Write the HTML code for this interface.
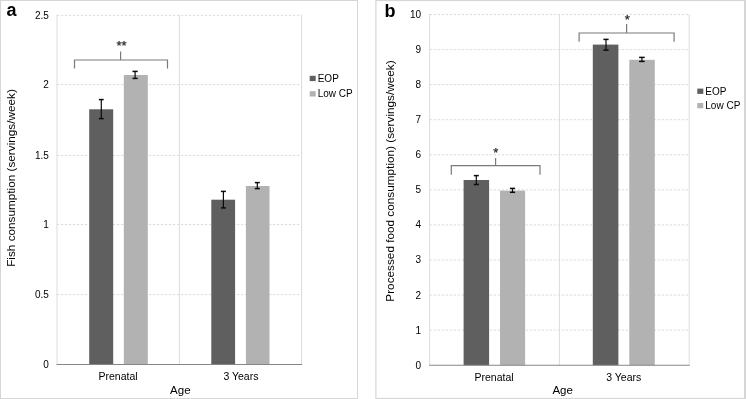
<!DOCTYPE html>
<html><head><meta charset="utf-8"><style>
html,body{margin:0;padding:0;background:#fff;}
body{width:746px;height:399px;overflow:hidden;}
svg{display:block;will-change:transform;font-family:"Liberation Sans",sans-serif;}
</style></head><body>
<svg width="746" height="399" viewBox="0 0 746 399">
<rect width="746" height="399" fill="#fff"/>
<rect x="0.5" y="0.5" width="357" height="398" fill="none" stroke="#d6d6d6" stroke-width="1"/>
<rect x="375.9" y="0.5" width="369.1" height="398" fill="none" stroke="#d6d6d6" stroke-width="1.2"/>
<rect x="744" y="0" width="2" height="399" fill="#d6d6d6"/>
<text x="6.6" y="16.2" font-size="18" font-weight="bold" fill="#000">a</text>
<text x="48.8" y="368" font-size="10" text-anchor="end" fill="#000">0</text>
<line x1="57" y1="294.6" x2="301.6" y2="294.6" stroke="#dcdcdc" stroke-width="1" stroke-dasharray="2.4,1.6"/>
<text x="48.8" y="298.1" font-size="10" text-anchor="end" fill="#000">0.5</text>
<line x1="57" y1="224.6" x2="301.6" y2="224.6" stroke="#dcdcdc" stroke-width="1" stroke-dasharray="2.4,1.6"/>
<text x="48.8" y="228.1" font-size="10" text-anchor="end" fill="#000">1</text>
<line x1="57" y1="155.4" x2="301.6" y2="155.4" stroke="#dcdcdc" stroke-width="1" stroke-dasharray="2.4,1.6"/>
<text x="48.8" y="158.9" font-size="10" text-anchor="end" fill="#000">1.5</text>
<line x1="57" y1="84.6" x2="301.6" y2="84.6" stroke="#dcdcdc" stroke-width="1" stroke-dasharray="2.4,1.6"/>
<text x="48.8" y="88.1" font-size="10" text-anchor="end" fill="#000">2</text>
<line x1="57" y1="15.3" x2="301.6" y2="15.3" stroke="#dcdcdc" stroke-width="1" stroke-dasharray="2.4,1.6"/>
<text x="48.8" y="18.8" font-size="10" text-anchor="end" fill="#000">2.5</text>
<line x1="57" y1="14.8" x2="57" y2="364.5" stroke="#dcdcdc" stroke-width="1"/>
<line x1="179.4" y1="14.8" x2="179.4" y2="364.5" stroke="#dcdcdc" stroke-width="1"/>
<line x1="301.6" y1="14.8" x2="301.6" y2="364.5" stroke="#dcdcdc" stroke-width="1"/>
<rect x="89.2" y="109.3" width="24" height="255.2" fill="#5f5f5f"/>
<line x1="101.3" y1="99.6" x2="101.3" y2="118.6" stroke="#0a0a0a" stroke-width="1.2"/>
<line x1="98.9" y1="99.6" x2="103.7" y2="99.6" stroke="#0a0a0a" stroke-width="1.5"/>
<line x1="98.9" y1="118.6" x2="103.7" y2="118.6" stroke="#0a0a0a" stroke-width="1.5"/>
<rect x="123.8" y="75" width="24" height="289.5" fill="#b2b2b2"/>
<line x1="135.1" y1="71.4" x2="135.1" y2="78.4" stroke="#0a0a0a" stroke-width="1.2"/>
<line x1="132.5" y1="71.4" x2="137.7" y2="71.4" stroke="#0a0a0a" stroke-width="1.5"/>
<line x1="132.5" y1="78.4" x2="137.7" y2="78.4" stroke="#0a0a0a" stroke-width="1.5"/>
<rect x="211.3" y="199.7" width="23.8" height="164.8" fill="#5f5f5f"/>
<line x1="223.4" y1="191.4" x2="223.4" y2="207.9" stroke="#0a0a0a" stroke-width="1.2"/>
<line x1="220.9" y1="191.4" x2="225.9" y2="191.4" stroke="#0a0a0a" stroke-width="1.5"/>
<line x1="220.9" y1="207.9" x2="225.9" y2="207.9" stroke="#0a0a0a" stroke-width="1.5"/>
<rect x="245.9" y="186" width="23.6" height="178.5" fill="#b2b2b2"/>
<line x1="257.3" y1="182.6" x2="257.3" y2="188.6" stroke="#0a0a0a" stroke-width="1.2"/>
<line x1="254.8" y1="182.6" x2="259.8" y2="182.6" stroke="#0a0a0a" stroke-width="1.5"/>
<line x1="254.8" y1="188.6" x2="259.8" y2="188.6" stroke="#0a0a0a" stroke-width="1.5"/>
<line x1="56.5" y1="364.5" x2="302.1" y2="364.5" stroke="#868686" stroke-width="1.1"/>
<path d="M74.5 68.5 V60 H167.5 V68.5 M120.6 60 V51.5" fill="none" stroke="#7a7a7a" stroke-width="1.2"/>
<text x="121.5" y="49.8" font-size="13" text-anchor="middle" fill="#2a2a2a" stroke="#2a2a2a" stroke-width="0.25">**</text>
<text x="118.1" y="379.6" font-size="10.5" text-anchor="middle" fill="#000">Prenatal</text>
<text x="240.9" y="379.6" font-size="10.5" text-anchor="middle" fill="#000">3 Years</text>
<text x="180.3" y="394.2" font-size="11.5" text-anchor="middle" fill="#000">Age</text>
<text transform="translate(14.7,178) rotate(-90)" font-size="11.75" text-anchor="middle" fill="#000">Fish consumption (servings/week)</text>
<rect x="309.7" y="75.8" width="6" height="5.3" fill="#5f5f5f"/>
<text x="317.7" y="81.5" font-size="10" fill="#000">EOP</text>
<rect x="309.7" y="91.2" width="6" height="5.3" fill="#b2b2b2"/>
<text x="317.7" y="96.6" font-size="10" fill="#000">Low CP</text>
<text x="384.6" y="17" font-size="18" font-weight="bold" fill="#000">b</text>
<text x="421.1" y="368.7" font-size="10" text-anchor="end" fill="#000">0</text>
<line x1="429.6" y1="330.13" x2="689.2" y2="330.13" stroke="#dcdcdc" stroke-width="1" stroke-dasharray="2.4,1.6"/>
<text x="421.1" y="333.63" font-size="10" text-anchor="end" fill="#000">1</text>
<line x1="429.6" y1="295.06" x2="689.2" y2="295.06" stroke="#dcdcdc" stroke-width="1" stroke-dasharray="2.4,1.6"/>
<text x="421.1" y="298.56" font-size="10" text-anchor="end" fill="#000">2</text>
<line x1="429.6" y1="259.99" x2="689.2" y2="259.99" stroke="#dcdcdc" stroke-width="1" stroke-dasharray="2.4,1.6"/>
<text x="421.1" y="263.49" font-size="10" text-anchor="end" fill="#000">3</text>
<line x1="429.6" y1="224.92" x2="689.2" y2="224.92" stroke="#dcdcdc" stroke-width="1" stroke-dasharray="2.4,1.6"/>
<text x="421.1" y="228.42" font-size="10" text-anchor="end" fill="#000">4</text>
<line x1="429.6" y1="189.85" x2="689.2" y2="189.85" stroke="#dcdcdc" stroke-width="1" stroke-dasharray="2.4,1.6"/>
<text x="421.1" y="193.35" font-size="10" text-anchor="end" fill="#000">5</text>
<line x1="429.6" y1="154.78" x2="689.2" y2="154.78" stroke="#dcdcdc" stroke-width="1" stroke-dasharray="2.4,1.6"/>
<text x="421.1" y="158.28" font-size="10" text-anchor="end" fill="#000">6</text>
<line x1="429.6" y1="119.71" x2="689.2" y2="119.71" stroke="#dcdcdc" stroke-width="1" stroke-dasharray="2.4,1.6"/>
<text x="421.1" y="123.21" font-size="10" text-anchor="end" fill="#000">7</text>
<line x1="429.6" y1="84.64" x2="689.2" y2="84.64" stroke="#dcdcdc" stroke-width="1" stroke-dasharray="2.4,1.6"/>
<text x="421.1" y="88.14" font-size="10" text-anchor="end" fill="#000">8</text>
<line x1="429.6" y1="49.57" x2="689.2" y2="49.57" stroke="#dcdcdc" stroke-width="1" stroke-dasharray="2.4,1.6"/>
<text x="421.1" y="53.07" font-size="10" text-anchor="end" fill="#000">9</text>
<line x1="429.6" y1="14.5" x2="689.2" y2="14.5" stroke="#dcdcdc" stroke-width="1" stroke-dasharray="2.4,1.6"/>
<text x="421.1" y="18" font-size="10" text-anchor="end" fill="#000">10</text>
<line x1="429.6" y1="14" x2="429.6" y2="365.3" stroke="#dcdcdc" stroke-width="1"/>
<line x1="559.4" y1="14" x2="559.4" y2="365.3" stroke="#dcdcdc" stroke-width="1"/>
<line x1="689.2" y1="14" x2="689.2" y2="365.3" stroke="#dcdcdc" stroke-width="1"/>
<rect x="463.6" y="180" width="25.5" height="185.3" fill="#5f5f5f"/>
<line x1="476.3" y1="175.6" x2="476.3" y2="184.5" stroke="#0a0a0a" stroke-width="1.2"/>
<line x1="473.8" y1="175.6" x2="478.8" y2="175.6" stroke="#0a0a0a" stroke-width="1.5"/>
<line x1="473.8" y1="184.5" x2="478.8" y2="184.5" stroke="#0a0a0a" stroke-width="1.5"/>
<rect x="500" y="190.6" width="25.1" height="174.7" fill="#b2b2b2"/>
<line x1="512.5" y1="188.4" x2="512.5" y2="192.3" stroke="#0a0a0a" stroke-width="1.2"/>
<line x1="509.9" y1="188.4" x2="515.1" y2="188.4" stroke="#0a0a0a" stroke-width="1.5"/>
<line x1="509.9" y1="192.3" x2="515.1" y2="192.3" stroke="#0a0a0a" stroke-width="1.5"/>
<rect x="592.8" y="44.6" width="25.6" height="320.7" fill="#5f5f5f"/>
<line x1="606" y1="39.4" x2="606" y2="50.1" stroke="#0a0a0a" stroke-width="1.2"/>
<line x1="603.4" y1="39.4" x2="608.6" y2="39.4" stroke="#0a0a0a" stroke-width="1.5"/>
<line x1="603.4" y1="50.1" x2="608.6" y2="50.1" stroke="#0a0a0a" stroke-width="1.5"/>
<rect x="629.3" y="59.8" width="25.5" height="305.5" fill="#b2b2b2"/>
<line x1="641.9" y1="57.4" x2="641.9" y2="61.4" stroke="#0a0a0a" stroke-width="1.2"/>
<line x1="639.1" y1="57.4" x2="644.7" y2="57.4" stroke="#0a0a0a" stroke-width="1.5"/>
<line x1="639.1" y1="61.4" x2="644.7" y2="61.4" stroke="#0a0a0a" stroke-width="1.5"/>
<line x1="429.1" y1="365.3" x2="689.7" y2="365.3" stroke="#868686" stroke-width="1.1"/>
<path d="M451.3 174.8 V165.7 H540 V174.8 M495.6 165.7 V158" fill="none" stroke="#7a7a7a" stroke-width="1.2"/>
<text x="495.7" y="157.2" font-size="13" text-anchor="middle" fill="#2a2a2a" stroke="#2a2a2a" stroke-width="0.25">*</text>
<path d="M579.1 41.8 V33 H674.1 V41.8 M626.6 33 V24" fill="none" stroke="#7a7a7a" stroke-width="1.2"/>
<text x="627.4" y="24.3" font-size="13" text-anchor="middle" fill="#2a2a2a" stroke="#2a2a2a" stroke-width="0.25">*</text>
<text x="494.1" y="380.8" font-size="10.5" text-anchor="middle" fill="#000">Prenatal</text>
<text x="623.8" y="380.8" font-size="10.5" text-anchor="middle" fill="#000">3 Years</text>
<text x="562.7" y="394.2" font-size="11.5" text-anchor="middle" fill="#000">Age</text>
<text transform="translate(394,181) rotate(-90)" font-size="11.78" text-anchor="middle" fill="#000">Processed food consumption) (servings/week)</text>
<rect x="697.3" y="88.6" width="6" height="5.3" fill="#5f5f5f"/>
<text x="705.3" y="94.5" font-size="10" fill="#000">EOP</text>
<rect x="697.3" y="103" width="6" height="5.3" fill="#b2b2b2"/>
<text x="705.3" y="108.8" font-size="10" fill="#000">Low CP</text>
</svg>
</body></html>
